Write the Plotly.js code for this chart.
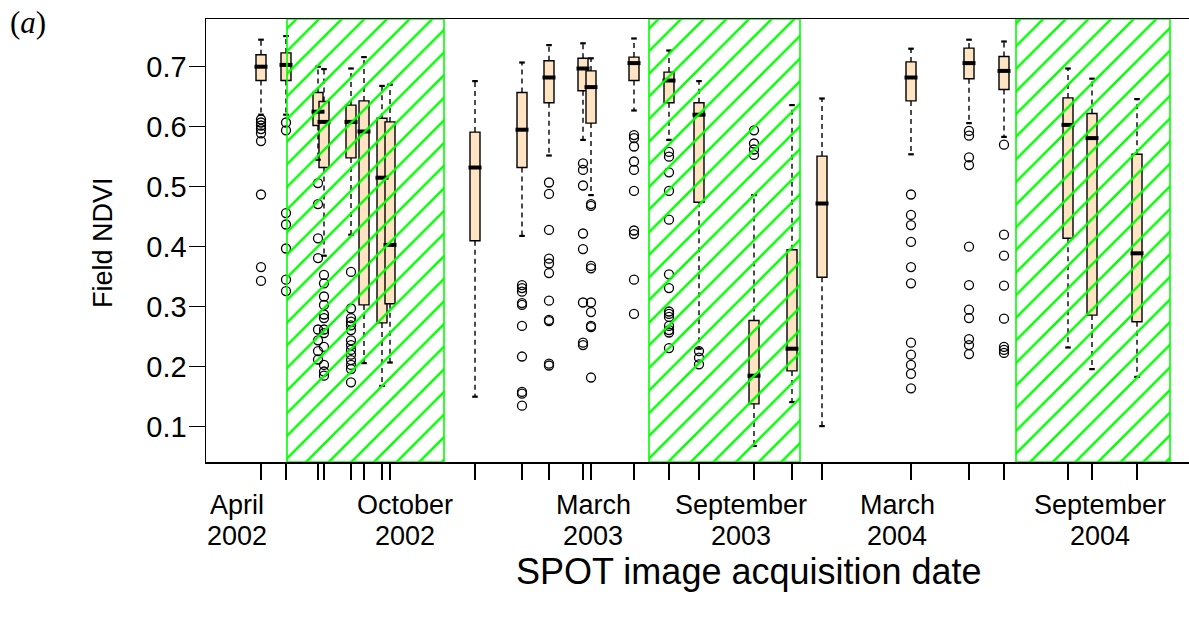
<!DOCTYPE html>
<html>
<head>
<meta charset="utf-8">
<script src="https://cdn.plot.ly/plotly-3.0.1.min.js"></script>
<style>html,body{margin:0;padding:0;background:#fff;}</style>
</head>
<body>
<div id="chart" style="width:1189px;height:618px;"></div>
<script>
// ---- data ----
const acquisitionDates = [
  '2002-04-25','2002-05-20','2002-06-21','2002-06-27','2002-07-24','2002-08-06','2002-08-24','2002-09-01',
  '2002-11-25','2003-01-11','2003-02-07','2003-03-13','2003-03-21','2003-05-03','2003-06-07','2003-07-07',
  '2003-08-31','2003-10-08','2003-11-07','2004-02-04','2004-04-02','2004-05-07','2004-07-10','2004-08-03',
  '2004-09-17'
];
const upperWhisker = [0.745,0.751,0.700,0.696,0.697,0.716,0.668,0.670,0.676,0.707,0.736,0.739,0.714,0.747,0.727,0.676,0.486,0.636,0.647,0.730,0.745,0.742,0.697,0.680,0.646];
const upperQuartile = [0.720,0.723,0.657,0.642,0.636,0.643,0.614,0.608,0.591,0.657,0.710,0.714,0.693,0.716,0.691,0.640,0.277,0.395,0.551,0.708,0.731,0.717,0.648,0.622,0.554];
const medianNDVI = [0.700,0.703,0.625,0.608,0.608,0.592,0.515,0.403,0.532,0.595,0.682,0.697,0.666,0.706,0.677,0.620,0.185,0.230,0.472,0.682,0.706,0.693,0.603,0.581,0.389];
const lowerQuartile = [0.677,0.677,0.602,0.532,0.548,0.303,0.273,0.305,0.410,0.532,0.640,0.660,0.606,0.677,0.640,0.474,0.138,0.193,0.349,0.643,0.680,0.662,0.414,0.286,0.275];
const lowerWhisker = [0.620,0.620,0.545,0.385,0.420,0.206,0.168,0.207,0.150,0.418,0.552,0.578,0.486,0.627,0.578,0.230,0.068,0.141,0.101,0.554,0.606,0.583,0.232,0.196,0.183];
const outliers = [
  [0.612,0.607,0.602,0.596,0.589,0.576,0.487,0.366,0.343],
  [0.607,0.594,0.456,0.437,0.397,0.345,0.326],
  [0.506,0.471,0.414,0.381,0.262,0.244,0.226,0.212],
  [0.353,0.339,0.317,0.303,0.287,0.281,0.262,0.256,0.233,0.203,0.192,0.185],
  [0.358,0.297,0.281,0.275,0.269,0.261,0.244,0.236,0.228,0.220,0.211,0.203,0.196,0.174],
  [], [], [], [],
  [0.336,0.331,0.325,0.306,0.303,0.268,0.217,0.158,0.155,0.135],
  [0.507,0.488,0.428,0.380,0.372,0.356,0.310,0.278,0.276,0.205,0.202],
  [0.539,0.528,0.502,0.422,0.396,0.307,0.240,0.236],
  [0.471,0.468,0.368,0.364,0.307,0.291,0.268,0.266,0.182],
  [0.586,0.581,0.567,0.542,0.528,0.493,0.427,0.421,0.345,0.288],
  [0.558,0.550,0.524,0.493,0.445,0.354,0.331,0.292,0.288,0.283,0.268,0.261,0.257,0.231],
  [0.226,0.215,0.204],
  [0.594,0.572,0.562,0.553],
  [], [],
  [0.487,0.453,0.436,0.408,0.366,0.339,0.240,0.220,0.203,0.188,0.164],
  [0.593,0.585,0.549,0.536,0.400,0.336,0.295,0.281,0.246,0.236,0.221],
  [0.570,0.420,0.385,0.335,0.280,0.233,0.228,0.223],
  [], [], []
];
const seasonStart = ['2002-05-21','2003-05-18','2004-05-19'];
const seasonEnd   = ['2002-10-25','2003-10-16','2004-10-20'];
const labelDates  = ['2002-04-01','2002-09-16','2003-03-23','2003-08-18','2004-01-21','2004-08-11'];
const labelMonths = ['April','October','March','September','March','September'];
const labelYears  = ['2002','2002','2003','2003','2004','2004'];
const yTickValues = [0.1,0.2,0.3,0.4,0.5,0.6,0.7];
const yTickLabels = ['0.1','0.2','0.3','0.4','0.5','0.6','0.7'];

// ---- styling ----
const DAY = 86400000;
const BOX_W = 10 * DAY;
const xRange = ['2002-03-01','2004-11-08'];
const yRange = [0.0412, 0.7795];
const FONT = 'Liberation Sans, Arial, sans-serif';
const t = d => Date.parse(d);

const traces = [];

// boxes (q1..q3 with median); whiskers drawn separately (dashed, R style)
traces.push({
  type: 'box',
  x: acquisitionDates,
  q1: lowerQuartile, median: medianNDVI, q3: upperQuartile,
  lowerfence: lowerQuartile, upperfence: upperQuartile,
  width: BOX_W, whiskerwidth: 0,
  fillcolor: '#FFE4C4',
  line: {color: '#000', width: 1.4},
  boxpoints: false, hoverinfo: 'skip', showlegend: false
});

// whiskers
const wx = [], wy = [];
acquisitionDates.forEach((d, i) => {
  wx.push(d, d, null, d, d, null);
  wy.push(upperQuartile[i], upperWhisker[i], null, lowerQuartile[i], lowerWhisker[i], null);
});
traces.push({type: 'scatter', mode: 'lines', x: wx, y: wy,
  line: {color: '#000', width: 1.4, dash: '5px,4px'}, hoverinfo: 'skip', showlegend: false});

// staples
const sx = [], sy = [];
acquisitionDates.forEach((d, i) => {
  const c = t(d), h = 0.28 * BOX_W;
  sx.push(c - h, c + h, null, c - h, c + h, null);
  sy.push(upperWhisker[i], upperWhisker[i], null, lowerWhisker[i], lowerWhisker[i], null);
});
traces.push({type: 'scatter', mode: 'lines', x: sx, y: sy,
  line: {color: '#000', width: 2.2}, hoverinfo: 'skip', showlegend: false});

// thick medians
const mx = [], my = [];
acquisitionDates.forEach((d, i) => {
  const c = t(d), h = 0.5 * BOX_W + 1.5 * DAY;
  mx.push(c - h, c + h, null);
  my.push(medianNDVI[i], medianNDVI[i], null);
});
traces.push({type: 'scatter', mode: 'lines', x: mx, y: my,
  line: {color: '#000', width: 4}, hoverinfo: 'skip', showlegend: false});

// outliers
const ox = [], oy = [];
outliers.forEach((arr, i) => arr.forEach(v => { ox.push(acquisitionDates[i]); oy.push(v); }));
traces.push({type: 'scatter', mode: 'markers', x: ox, y: oy,
  marker: {symbol: 'circle-open', size: 9, color: '#000', line: {width: 1.3, color: '#000'}},
  hoverinfo: 'skip', showlegend: false});

// hatched growing-season rectangles (drawn on top)
seasonStart.forEach((s, i) => {
  const e = seasonEnd[i];
  traces.push({type: 'scatter', mode: 'lines',
    x: [s, s, e, e, s], y: [yRange[0], yRange[1], yRange[1], yRange[0], yRange[0]],
    fill: 'toself', fillcolor: 'rgba(0,0,0,0)',
    fillpattern: {shape: '/', fgcolor: '#00FF00', bgcolor: 'rgba(0,0,0,0)', size: 16, solidity: 0.15},
    line: {color: '#00FF00', width: 1.6}, hoverinfo: 'skip', showlegend: false});
});

const annotations = [];
labelDates.forEach((d, i) => {
  annotations.push({xref: 'x', yref: 'paper', x: d, y: -0.0975, text: labelMonths[i], borderpad: 0,
    showarrow: false, xanchor: 'center', yanchor: 'middle', font: {family: FONT, size: 27, color: '#000'}});
  annotations.push({xref: 'x', yref: 'paper', x: d, y: -0.1675, text: labelYears[i], borderpad: 0,
    showarrow: false, xanchor: 'center', yanchor: 'middle', font: {family: FONT, size: 27, color: '#000'}});
});
annotations.push({xref: 'paper', yref: 'paper', x: 0.5519, y: -0.248, text: 'SPOT image acquisition date',
  showarrow: false, xanchor: 'center', yanchor: 'middle', font: {family: FONT, size: 36, color: '#000'}});
annotations.push({xref: 'paper', yref: 'paper', x: -0.1048, y: 0.4966, text: 'Field NDVI', textangle: -90,
  showarrow: false, xanchor: 'center', yanchor: 'middle', font: {family: FONT, size: 27, color: '#000'}});
annotations.push({xref: 'paper', yref: 'paper', x: -0.181, y: 0.992, text: '(<i>a</i>)',
  showarrow: false, xanchor: 'center', yanchor: 'middle', font: {family: 'Liberation Serif, Times New Roman, serif', size: 31, color: '#000'}});

const layout = {
  width: 1189, height: 618,
  margin: {l: 206, r: 0, t: 19, b: 156, pad: 0},
  paper_bgcolor: '#fff', plot_bgcolor: '#fff',
  showlegend: false, boxmode: 'overlay',
  font: {family: FONT, color: '#000'},
  xaxis: {type: 'date', range: xRange, showgrid: false, zeroline: false,
    showline: true, mirror: true, linecolor: '#000', linewidth: 1.5,
    ticks: 'outside', ticklen: 16, tickwidth: 1.5, tickcolor: '#000',
    tickmode: 'array', tickvals: acquisitionDates, showticklabels: false},
  yaxis: {range: yRange, showgrid: false, zeroline: false,
    showline: true, linecolor: '#000', linewidth: 1.5,
    ticks: 'outside', ticklen: 16, tickwidth: 1.5, tickcolor: '#000',
    tickmode: 'array', tickvals: yTickValues, ticktext: yTickLabels, ticklabelstandoff: -4,
    tickfont: {family: FONT, size: 29, color: '#000'}},
  annotations: annotations
};

Plotly.newPlot('chart', traces, layout, {staticPlot: true, displayModeBar: false});
</script>
</body>
</html>
